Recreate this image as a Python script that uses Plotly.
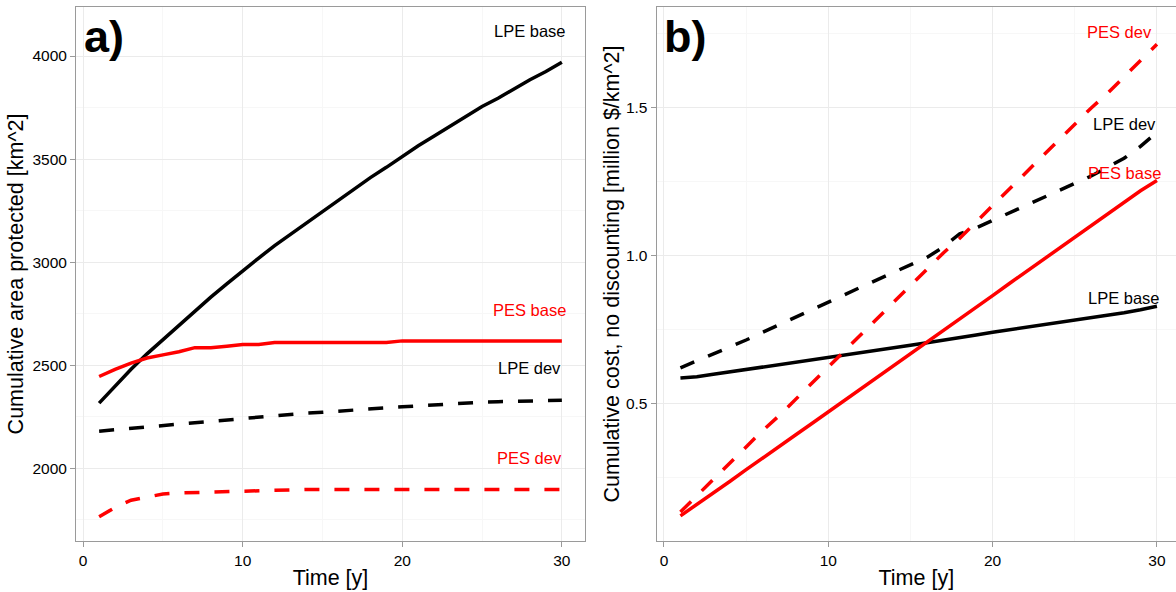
import plotly.graph_objects as go
from plotly.subplots import make_subplots

# ---------------- data ----------------
time = list(range(1, 31))

# Panel a) cumulative area protected [km^2]
area_lpe_base = [2316, 2400, 2480, 2555, 2625, 2695, 2760, 2830, 2895, 2960,
                 3020, 3080, 3135, 3195, 3250, 3300, 3355, 3410, 3460, 3515,
                 3565, 3612, 3660, 3708, 3755, 3795, 3840, 3885, 3925, 3970]
area_pes_base = [2445, 2480, 2510, 2535, 2550, 2565, 2585, 2585, 2592, 2600,
                 2600, 2610, 2610, 2610, 2610, 2610, 2610, 2610, 2610, 2618,
                 2618, 2618, 2618, 2618, 2618, 2618, 2618, 2618, 2618, 2618]
area_lpe_dev = [2180, 2187, 2195, 2200, 2207, 2213, 2220, 2228, 2235, 2242,
                2250, 2255, 2262, 2268, 2272, 2278, 2283, 2288, 2293, 2298,
                2303, 2308, 2312, 2316, 2320, 2323, 2325, 2327, 2328, 2330]
area_pes_dev = [1765, 1810, 1845, 1860, 1875, 1880, 1882, 1885, 1890, 1890,
                1890, 1895, 1897, 1897, 1897, 1897, 1897, 1897, 1897, 1897,
                1897, 1897, 1897, 1897, 1897, 1897, 1897, 1897, 1897, 1897]

# Panel b) cumulative cost, no discounting [million $/km^2]
cost_lpe_base = [0.588, 0.592, 0.600, 0.608, 0.615, 0.624, 0.631, 0.639, 0.647, 0.655,
                 0.664, 0.672, 0.681, 0.690, 0.698, 0.707, 0.715, 0.724, 0.733, 0.742,
                 0.750, 0.758, 0.766, 0.774, 0.782, 0.790, 0.799, 0.808, 0.818, 0.830]
cost_pes_base = [0.122, 0.160, 0.200, 0.238, 0.278, 0.316, 0.355, 0.395, 0.434, 0.473,
                 0.512, 0.552, 0.591, 0.630, 0.670, 0.710, 0.749, 0.788, 0.827, 0.866,
                 0.906, 0.945, 0.984, 1.024, 1.063, 1.102, 1.141, 1.180, 1.220, 1.255]
cost_lpe_dev = [0.622, 0.645, 0.668, 0.692, 0.716, 0.742, 0.768, 0.794, 0.820, 0.845,
                0.870, 0.895, 0.920, 0.945, 0.970, 0.995, 1.030, 1.075, 1.095, 1.120,
                1.145, 1.170, 1.195, 1.220, 1.245, 1.270, 1.300, 1.330, 1.370, 1.418]
cost_pes_dev = [0.135, 0.190, 0.245, 0.300, 0.355, 0.410, 0.460, 0.515, 0.570, 0.625,
                0.680, 0.735, 0.790, 0.845, 0.900, 0.955, 1.010, 1.060, 1.115, 1.170,
                1.225, 1.280, 1.335, 1.390, 1.445, 1.500, 1.550, 1.605, 1.660, 1.715]

# Label positions (data coords) for the in-plot series labels
labels = ["LPE base", "PES base", "LPE dev", "PES dev"]
label_colors = ["black", "red", "black", "red"]
label_t_a = [28.0, 28.0, 28.0, 28.0]
label_v_a = [4121, 2767, 2485, 2049]
label_t_b = [28.0, 28.0, 28.0, 27.7]
label_v_b = [0.858, 1.280, 1.446, 1.757]

x_ticks = [0, 10, 20, 30]
# --------------------------------------

W, H = 1176, 592
FONT = "Liberation Sans, Arial, sans-serif"
GRID = "#ebebeb"
MINOR = "#f7f7f7"
BORDER = "#9a9a9a"
DASH = "15px,15px"
LW = 3.5

fig = make_subplots(rows=1, cols=2)

def add_series(col, ys, color, dash):
    fig.add_trace(go.Scatter(x=time, y=ys, mode="lines",
                             line=dict(color=color, width=LW, dash=dash),
                             showlegend=False, hoverinfo="skip"),
                  row=1, col=col)

add_series(1, area_lpe_base, "black", "solid")
add_series(1, area_pes_base, "red", "solid")
add_series(1, area_lpe_dev, "black", DASH)
add_series(1, area_pes_dev, "red", DASH)

add_series(2, cost_lpe_base, "black", "solid")
add_series(2, cost_pes_base, "red", "solid")
add_series(2, cost_lpe_dev, "black", DASH)
add_series(2, cost_pes_dev, "red", DASH)

annotations = []
for lab, c, t, v in zip(labels, label_colors, label_t_a, label_v_a):
    annotations.append(dict(x=t, y=v, xref="x", yref="y", text=lab, showarrow=False,
                            font=dict(family=FONT, size=16.5, color=c),
                            xanchor="center", yanchor="middle"))
for lab, c, t, v in zip(labels, label_colors, label_t_b, label_v_b):
    annotations.append(dict(x=t, y=v, xref="x2", yref="y2", text=lab, showarrow=False,
                            font=dict(family=FONT, size=16.5, color=c),
                            xanchor="center", yanchor="middle"))

# panel tags
annotations.append(dict(x=-0.1, y=(H - 36) / H, xref="x", yref="paper", text="a)",
                        showarrow=False, xanchor="left", yanchor="middle",
                        font=dict(family=FONT, size=45, color="black", weight="bold")))
annotations.append(dict(x=-0.1, y=(H - 36) / H, xref="x2", yref="paper", text="b)",
                        showarrow=False, xanchor="left", yanchor="middle",
                        font=dict(family=FONT, size=45, color="black", weight="bold")))

ydom = [(H - 541) / H, (H - 7) / H]

common_axis = dict(showline=True, mirror=True, linecolor=BORDER, linewidth=1,
                   ticks="outside", ticklen=5, tickcolor=BORDER, tickwidth=1,
                   showgrid=True, gridcolor=GRID, gridwidth=1, zeroline=False,
                   tickfont=dict(family=FONT, size=15.5, color="black"),
                   title_font=dict(family=FONT, size=21.5, color="black"))

fig.update_layout(
    width=W, height=H,
    margin=dict(l=0, r=0, t=0, b=0),
    paper_bgcolor="white", plot_bgcolor="white",
    annotations=annotations,
    xaxis=dict(domain=[76 / W, 585 / W], range=[-0.45, 31.45],
               tickvals=x_ticks, title=dict(text="Time [y]", standoff=2),
               minor=dict(tickvals=[5, 15, 25], showgrid=True, gridcolor=MINOR, ticks=""),
               **common_axis),
    yaxis=dict(domain=ydom, range=[1647, 4238],
               tickvals=[2000, 2500, 3000, 3500, 4000],
               title=dict(text="Cumulative area protected [km^2]", standoff=2),
               minor=dict(tickvals=[1750, 2250, 2750, 3250, 3750], showgrid=True,
                          gridcolor=MINOR, ticks=""),
               **common_axis),
    xaxis2=dict(domain=[656.6 / W, 1.0], range=[-0.45, 31.16],
                tickvals=x_ticks, title=dict(text="Time [y]", standoff=2),
                minor=dict(tickvals=[5, 15, 25], showgrid=True, gridcolor=MINOR, ticks=""),
                **common_axis),
    yaxis2=dict(domain=ydom, range=[0.037, 1.841],
                tickvals=[0.5, 1.0, 1.5], ticktext=["0.5", "1.0", "1.5"],
                title=dict(text="Cumulative cost, no discounting [million $/km^2]", standoff=0),
                minor=dict(tickvals=[0.25, 0.75, 1.25, 1.75], showgrid=True,
                           gridcolor=MINOR, ticks=""),
                **common_axis),
)

fig.write_html("out.html",
               config={"displayModeBar": False},
               post_script="document.body.style.margin='0';document.body.style.overflow='hidden';")
